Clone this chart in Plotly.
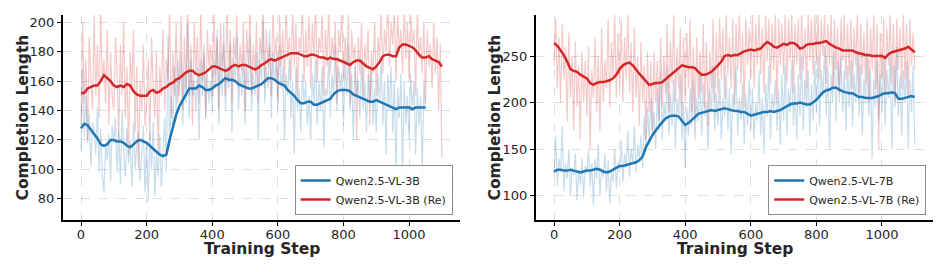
import plotly.graph_objects as go

# ---------------- data ----------------
smooth_steps_3b_blue = list(range(0, 1051, 10))
smooth_steps_full = list(range(0, 1101, 10))
raw_steps_3b_blue = list(range(0, 1051, 5))
raw_steps_full = list(range(0, 1101, 5))

smooth_3b = [128,131,130,127,124,121,117,116,117,120,120,119,119,118,116,115,117,119,120,119,
             118,116,114,112,110,109,110,120,129,137,143,147,152,155,155,155,157,156,154,154,
             155,157,158,160,162,161,161,160,158,157,156,155,155,156,157,158,160,162,162,161,
             159,158,157,154,152,150,147,145,145,146,146,144,144,145,146,147,148,151,153,154,
             154,154,153,151,150,149,148,147,146,146,147,146,145,144,143,142,141,142,142,142,
             142,141,142,142,142,142]

smooth_3b_re = [152,152,155,156,157,157,160,164,162,160,157,156,157,156,158,157,153,151,150,150,
                150,153,154,152,153,155,156,158,159,161,162,164,166,167,167,165,164,165,166,168,
                170,170,169,168,167,168,170,171,170,171,171,170,169,168,169,171,172,174,175,174,
                175,176,177,178,179,179,179,178,177,177,178,178,177,176,176,175,176,175,175,174,
                173,172,171,173,174,174,172,170,169,168,170,173,177,178,178,177,177,183,185,185,
                184,183,181,178,176,176,177,175,174,173,170]

smooth_7b = [126,128,128,127,127,128,127,126,125,126,127,127,128,129,128,126,125,126,128,130,
             132,132,133,134,135,136,138,142,152,159,165,170,175,179,183,185,186,186,185,181,
             176,178,181,185,188,189,190,191,192,191,192,193,194,193,192,191,191,190,190,188,
             186,187,188,189,190,190,191,190,191,192,194,196,198,199,199,200,199,198,198,200,
             203,207,211,213,214,216,216,214,212,211,210,210,208,206,206,205,205,205,206,207,
             209,210,210,211,210,204,204,205,206,207,206]

smooth_7b_re = [264,261,256,251,244,236,234,233,230,228,226,221,219,221,222,222,223,224,226,230,
                236,240,242,243,240,235,231,227,223,219,220,221,221,222,225,228,230,233,237,240,
                239,238,238,237,233,230,230,231,233,236,240,244,250,251,250,251,251,253,255,256,
                257,256,257,258,262,265,263,260,259,261,263,262,264,264,262,258,259,262,263,263,
                264,264,265,266,263,261,259,258,256,256,256,256,254,253,252,251,251,250,250,250,
                250,248,252,254,255,256,257,258,260,257,254]

raw_3b = [112,168,122,150,118,138,102,132,126,110,142,98,128,96,84,118,106,124,92,130,
          118,135,98,126,90,140,112,95,128,104,120,88,132,100,116,125,92,110,130,84,
          118,78,126,100,132,82,112,95,124,88,108,135,98,190,115,150,128,170,140,175,
          150,180,130,165,145,200,135,175,150,160,140,170,120,175,150,185,135,165,145,160,
          140,175,155,195,130,180,150,200,140,170,155,185,125,175,160,190,140,165,150,180,
          130,170,155,190,140,165,150,180,120,175,160,200,145,170,155,195,135,180,160,175,
          140,185,155,170,120,165,150,175,135,160,110,170,140,155,125,165,145,160,130,150,
          120,165,145,175,130,160,140,170,115,155,150,175,135,165,150,185,140,170,155,165,
          130,175,150,185,140,165,120,170,150,160,135,175,140,160,125,165,145,170,130,155,
          125,165,145,175,130,160,110,165,140,170,125,160,100,155,135,165,95,160,130,150,
          120,165,140,160,110,155,130,150,95,160,140]

raw_3b_re = [130,200,145,175,120,190,160,140,205,150,185,135,210,160,175,145,195,130,180,150,
             140,190,165,120,185,150,200,135,170,110,180,155,195,125,170,100,160,140,185,130,
             145,175,120,190,155,135,180,110,170,150,195,140,175,160,210,135,180,150,200,145,
             165,205,140,190,155,215,150,185,130,200,165,190,145,210,160,180,135,195,170,185,
             150,210,165,190,140,200,170,185,150,215,160,195,145,190,175,205,155,185,165,200,
             140,195,170,210,150,185,165,200,145,190,175,215,155,195,170,185,150,210,175,190,
             145,205,170,195,155,215,175,190,160,210,170,200,150,190,180,215,160,195,170,205,
             155,200,175,215,160,190,180,205,150,195,170,210,165,190,175,200,145,195,180,210,
             160,190,170,205,145,195,175,185,120,190,165,200,150,185,170,195,130,180,165,200,
             150,190,175,210,165,195,180,215,170,200,185,210,160,205,180,195,165,210,175,200,
             160,205,185,195,150,210,175,190,165,200,145,195,170,185,155,200,165,190,140,185,
             108]

raw_7b = [120,165,110,140,125,175,105,135,118,150,100,130,122,145,95,128,112,140,98,132,
          125,150,110,135,90,140,118,155,100,130,120,145,105,138,92,125,115,150,108,135,
          125,160,115,145,130,170,120,150,135,175,125,155,140,165,130,185,150,195,160,205,
          165,190,150,215,170,235,160,200,180,240,165,210,175,225,150,205,185,230,160,200,
          130,195,165,215,175,225,160,205,180,235,165,220,185,200,150,215,190,240,170,210,
          175,225,160,205,185,230,170,215,145,210,190,240,165,205,180,220,155,210,175,225,
          170,215,160,200,180,235,165,205,145,220,185,240,160,210,190,225,170,215,155,230,
          180,240,165,215,190,245,175,220,160,230,185,250,170,225,195,235,165,220,180,245,
          190,250,175,235,205,260,185,240,150,230,200,255,180,245,210,250,190,235,170,240,
          195,245,175,230,200,255,185,240,165,225,200,250,185,235,140,225,195,245,180,230,
          190,250,175,235,205,255,150,240,195,260,185,230,165,235,200,245,150,225,190,240,
          155]

raw_7b_re = [240,290,215,270,200,285,225,260,180,275,205,250,170,265,195,240,160,255,200,245,
             185,260,150,235,205,270,190,250,170,280,200,245,215,290,195,265,225,295,205,275,
             215,290,200,270,225,295,210,265,190,280,205,250,175,265,200,240,160,255,190,245,
             170,255,200,245,180,270,195,250,210,285,190,265,220,295,200,260,215,280,185,270,
             200,275,215,290,190,260,180,270,205,255,210,285,195,265,175,255,215,290,200,275,
             210,290,225,280,205,295,230,270,215,290,200,285,235,295,220,275,195,290,240,280,
             225,295,215,285,240,295,230,280,210,295,245,290,220,285,235,295,200,290,240,285,
             230,295,220,290,245,295,210,285,240,290,225,295,235,280,215,295,245,290,230,295,
             240,295,225,290,250,295,220,285,240,295,215,290,235,280,200,290,245,295,225,285,
             230,290,215,280,240,295,210,285,230,275,220,290,200,280,235,295,215,285,150,275,
             225,290,210,280,240,295,220,285,200,290,235,280,215,295,225,285,205,290,240,275,
             235]

x_ticks = [0, 200, 400, 600, 800, 1000]
y_ticks_left = [80, 100, 120, 140, 160, 180, 200]
y_ticks_right = [100, 150, 200, 250]

labels_left = ["Qwen2.5-VL-3B", "Qwen2.5-VL-3B (Re)"]
labels_right = ["Qwen2.5-VL-7B", "Qwen2.5-VL-7B (Re)"]
x_title = "Training Step"
y_title = "Completion Length"

# ---------------- styling ----------------
BLUE = "#1f77b4"
RED = "#d62728"
BLUE_RAW = "rgba(31,119,180,0.25)"
RED_RAW = "rgba(214,39,40,0.25)"
FONT = "DejaVu Sans"
TXT = "#262626"

fig = go.Figure()

def add_panel(xa, ya, leg, raw_b_x, raw_b, raw_r_x, raw_r, sm_b_x, sm_b, sm_r_x, sm_r, labels):
    fig.add_trace(go.Scatter(x=raw_b_x, y=raw_b, mode="lines", line=dict(color=BLUE_RAW, width=1.2),
                             xaxis=xa, yaxis=ya, showlegend=False, hoverinfo="skip"))
    fig.add_trace(go.Scatter(x=raw_r_x, y=raw_r, mode="lines", line=dict(color=RED_RAW, width=1.2),
                             xaxis=xa, yaxis=ya, showlegend=False, hoverinfo="skip"))
    fig.add_trace(go.Scatter(x=sm_b_x, y=sm_b, mode="lines", line=dict(color=BLUE, width=2.5),
                             xaxis=xa, yaxis=ya, name=labels[0], legend=leg))
    fig.add_trace(go.Scatter(x=sm_r_x, y=sm_r, mode="lines", line=dict(color=RED, width=2.5),
                             xaxis=xa, yaxis=ya, name=labels[1], legend=leg))

add_panel("x", "y", "legend", raw_steps_3b_blue, raw_3b, raw_steps_full, raw_3b_re,
          smooth_steps_3b_blue, smooth_3b, smooth_steps_full, smooth_3b_re, labels_left)
add_panel("x2", "y2", "legend2", raw_steps_full, raw_7b, raw_steps_full, raw_7b_re,
          smooth_steps_full, smooth_7b, smooth_steps_full, smooth_7b_re, labels_right)

axis_common = dict(
    showline=True, linecolor="black", linewidth=2, mirror=False,
    ticks="outside", ticklen=4, tickwidth=1.2, tickcolor="black",
    showgrid=True, gridcolor="rgba(0,0,0,0.13)", griddash="dash", gridwidth=1,
    zeroline=False, automargin=False,
    tickfont=dict(family=FONT, size=13, color=TXT),
)
x_common = dict(axis_common, ticklabelstandoff=-3)

legend_common = dict(
    bgcolor="rgba(255,255,255,0.85)", bordercolor="#8c8c8c", borderwidth=1,
    font=dict(family=FONT, size=11, color=TXT),
    xanchor="right", yanchor="bottom", y=0.024, tracegroupgap=0, itemwidth=30,
)

W, H, T, B = 947, 272, 15, 52
PH = H - T - B

def px_x(p):
    return p / W

def px_y(p):
    return (H - B - p) / PH

title_font = dict(family=FONT, size=15.5, color=TXT)
annotations = []
for cx in (261.5, 734.5):
    annotations.append(dict(text=f"<b>{x_title}</b>", x=px_x(cx), y=px_y(239), xref="paper", yref="paper",
                            showarrow=False, xanchor="center", yanchor="top", borderpad=0,
                            font=title_font))
for cx in (22, 494):
    annotations.append(dict(text=f"<b>{y_title}</b>", x=px_x(cx), y=px_y(117.5), xref="paper", yref="paper",
                            showarrow=False, xanchor="center", yanchor="middle", textangle=-90,
                            font=title_font))

fig.update_layout(
    width=W, height=H,
    margin=dict(l=0, r=0, t=T, b=B),
    plot_bgcolor="white", paper_bgcolor="white",
    font=dict(family=FONT),
    xaxis=dict(domain=[0.0665, 0.4857], range=[-55, 1155], tickvals=x_ticks, anchor="y", **x_common),
    yaxis=dict(domain=[0, 1], range=[65.5, 205], tickvals=y_ticks_left, anchor="x", **axis_common),
    xaxis2=dict(domain=[0.566, 0.985], range=[-55, 1155], tickvals=x_ticks, anchor="y2", **x_common),
    yaxis2=dict(domain=[0, 1], range=[74, 294], tickvals=y_ticks_right, anchor="x2", **axis_common),
    legend=dict(x=0.478, **legend_common),
    legend2=dict(x=0.978, **legend_common),
    showlegend=True,
    annotations=annotations,
)

fig.write_html("out.html", config={"displayModeBar": False},
               post_script="document.body.style.margin='0px';")
